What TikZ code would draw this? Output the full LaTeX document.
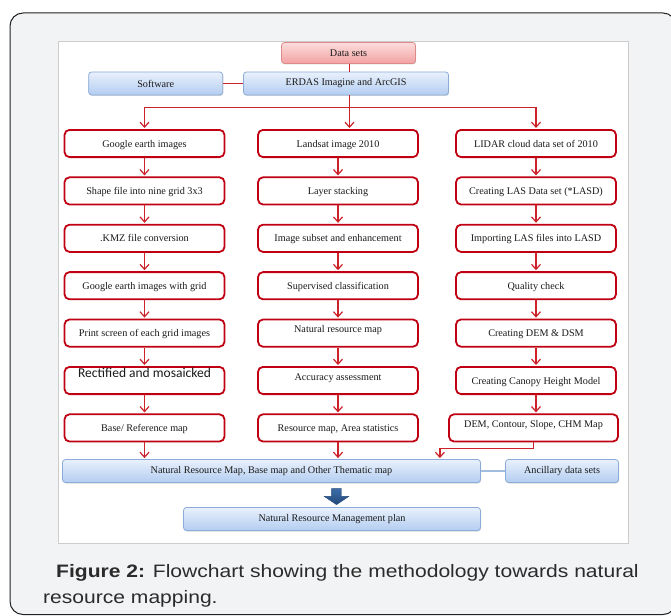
\documentclass[tikz,border=0pt]{standalone}
\usepackage{fontspec}
\setmainfont{Liberation Serif}
\newfontfamily\capfont[FakeStretch=1.17]{Liberation Sans}
\newfontfamily\calib{Carlito}
\usepackage{xcolor}
\usetikzlibrary{positioning,calc,shadows,shapes.arrows,arrows.meta}
\definecolor{redbox}{HTML}{C00012}
\definecolor{redln}{HTML}{CC2229}
\definecolor{bluetop}{HTML}{E9F1FC}
\definecolor{bluebot}{HTML}{B3CDF1}
\definecolor{blueln}{HTML}{8CACD8}
\definecolor{pinktop}{HTML}{FCDCDC}
\definecolor{pinkbot}{HTML}{F2A2A2}
\definecolor{pinkln}{HTML}{DE8A8A}
\definecolor{framebg}{HTML}{F2F3F5}
\definecolor{frameln}{HTML}{222222}
\definecolor{panelln}{HTML}{CCCCCC}
\definecolor{arrowlt}{HTML}{3B6CA8}
\definecolor{arrowdk}{HTML}{24497A}
\definecolor{txt}{HTML}{1A1A1A}
\definecolor{captxt}{HTML}{2B2B2B}

\begin{document}
\begin{tikzpicture}[x=1pt,y=-1pt,node distance=18.4pt,
  every node/.style={align=center,font=\fontsize{10.2}{12}\selectfont,text=txt,},%
  dr/.style={drop shadow={shadow xshift=.6pt,shadow yshift=-1pt,opacity=.3}},%
  rb/.style={draw=redbox,line width=1.8pt,rounded corners=5pt,fill=white,%
    minimum width=160pt,minimum height=27.2pt,text height=7pt,text depth=0pt,},%
  hi/.style={text depth=8pt},%
  bb/.style={top color=bluetop,bottom color=bluebot,draw=blueln,line width=.8pt,%
    rounded corners=3pt,minimum height=23pt,dr,},%
  pk/.style={top color=pinktop,bottom color=pinkbot,draw=pinkln,line width=.8pt,%
    rounded corners=3pt,minimum height=21pt,dr,},%
  e/.style={-{Straight Barb[length=5pt,width=9pt]},line width=1.2pt,draw=redln,shorten >=1pt},%
  ln/.style={line width=1.2pt,draw=redln},%
  bl/.style={line width=1.2pt,draw=blueln!80},%
  a/.style={single arrow,shape border rotate=270,draw=arrowdk,top color=arrowlt,%
    bottom color=arrowdk,minimum height=16pt,minimum width=24pt,inner sep=4.75pt,%
    single arrow head extend=7.25pt,single arrow tip angle=112}
  ]
  \useasboundingbox (0,0) rectangle (671,615);
  \draw [fill=framebg,draw=frameln,line width=1pt,rounded corners=13pt] (10,13) rectangle (676,614.5);
  \draw [fill=white,draw=panelln,line width=.8pt] (58.5,41.7) rectangle (628.3,543);

  % top of the chart
  \node (data) [pk,minimum width=134pt] at (348.5,53) {Data sets};
  \node (erdas) [bb,minimum width=205pt] at (346,83.5) {ERDAS Imagine and ArcGIS};
  \node (soft) [bb,left=20pt of erdas,minimum width=134pt] {Software};
  \coordinate (split) at ($(erdas.south)+(3.5,12)$);

  % left column
  \node (g1) [rb] at (144.5,143.5) {Google earth images};
  \node (g2) [rb,below=of g1] {Shape file into nine grid 3x3};
  \node (g3) [rb,below=of g2] {.KMZ file conversion};
  \node (g4) [rb,below=of g3] {Google earth images with grid};
  \node (g5) [rb,below=of g4] {Print screen of each grid images};
  \node (g6) [rb,below=of g5] {\raisebox{7pt}{\calib\fontsize{13.5}{15}\selectfont Rectified and mosaicked}};
  \node (g7) [rb,below=of g6] {Base/ Reference map};

  % middle column
  \node (m1) [rb] at (338,143.5) {Landsat image 2010};
  \node (m2) [rb,below=of m1] {Layer stacking};
  \node (m3) [rb,below=of m2] {Image subset and enhancement};
  \node (m4) [rb,below=of m3] {Supervised classification};
  \node (m5) [rb,hi,below=of m4] {Natural resource map};
  \node (m6) [rb,hi,below=of m5] {Accuracy assessment};
  \node (m7) [rb,below=of m6] {Resource map, Area statistics};

  % right column
  \node (r1) [rb] at (536,143.5) {LIDAR cloud data set of 2010};
  \node (r2) [rb,below=of r1] {Creating LAS Data set (*LASD)};
  \node (r3) [rb,below=of r2] {Importing LAS files into LASD};
  \node (r4) [rb,below=of r3] {Quality check};
  \node (r5) [rb,below=of r4] {Creating DEM \& DSM};
  \node (r6) [rb,below=of r5] {Creating Canopy Height Model};
  \node (r7) [rb,hi,below=of r6,xshift=-2.5pt,minimum width=169pt] {DEM, Contour, Slope, CHM Map};

  % bottom of the chart
  \node (nrmap) [bb,minimum width=418pt] at (271.5,471) {Natural Resource Map, Base map and Other Thematic map};
  \node (anc) [bb,minimum width=113pt] at (562,471) {Ancillary data sets};
  \node (plan) [bb,minimum width=297pt] at (332,519) {Natural Resource Management plan};
  \node (down) [a] at (336.5,495) {};
  \coordinate (rin) at ($(nrmap.north east)+(-41,0)$);

  \node (cap) [anchor=base west,align=left,inner sep=0pt,text=captxt,%
    font=\capfont\fontsize{18}{26}\selectfont] at (43,603.3)
  {\hspace*{13pt}\textbf{Figure 2:} Flowchart showing the methodology towards natural\\resource mapping.};

  \draw [ln] (data.south -| split) -- (erdas.north -| split);
  \draw [ln] (soft) -- (erdas);
  \draw [ln] (erdas.south -| split) -- (split);
  \draw [ln] (split -| g1) -- (split -| r1);
  \draw [e] (split -| g1) -- (g1.north);
  \draw [e] (split) -- (split |- m1.north);
  \draw [e] (split -| r1) -- (r1.north);

  \draw [e] (g1) -- (g2);
  \draw [e] (g2) -- (g3);
  \draw [e] (g3) -- (g4);
  \draw [e] (g4) -- (g5);
  \draw [e] (g5) -- (g6);
  \draw [e] (g6) -- (g7);
  \draw [e] (m1) -- (m2);
  \draw [e] (m2) -- (m3);
  \draw [e] (m3) -- (m4);
  \draw [e] (m4) -- (m5);
  \draw [e] (m5) -- (m6);
  \draw [e] (m6) -- (m7);
  \draw [e] (r1) -- (r2);
  \draw [e] (r2) -- (r3);
  \draw [e] (r3) -- (r4);
  \draw [e] (r4) -- (r5);
  \draw [e] (r5) -- (r6);
  \draw [e] (r6.south) -- (r6.south |- r7.north);

  \draw [e] (g7.south) -- (g7.south |- nrmap.north);
  \draw [e] (m7.south) -- (m7.south |- nrmap.north);
  \draw [e] (r7.south) -- ++(0,6) -| (rin);
  \draw [bl] (nrmap) -- (anc);
\end{tikzpicture}
\end{document}
